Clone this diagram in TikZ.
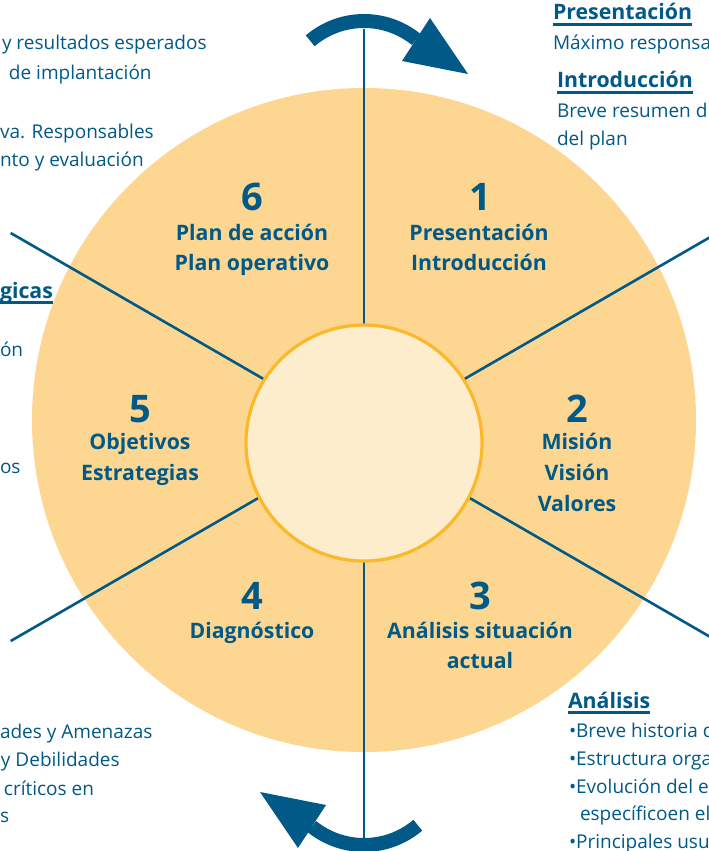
\documentclass[tikz,border=0pt]{standalone}
\usepackage{fontspec}
\setmainfont{Open Sans}
\definecolor{cblue}{RGB}{0,89,135}
\definecolor{cfill}{RGB}{253,214,146}
\definecolor{cinner}{RGB}{254,237,205}
\definecolor{cring}{RGB}{251,184,41}
\begin{document}
\begin{tikzpicture}[x=1pt,y=-1pt,
  every node/.style={inner sep=0pt, outer sep=0pt, text=cblue},
  body/.style={anchor=base west, font=\fontsize{19}{28}\selectfont},
  head/.style={anchor=base west, font=\fontsize{21.3}{28}\selectfont\bfseries},
  lab/.style={anchor=base, font=\fontsize{21.3}{31}\selectfont\bfseries},
  num/.style={anchor=base, font=\fontsize{38}{40}\selectfont\bfseries},
  ray/.style={draw=cblue, line width=2.6pt},
  ul/.style={draw=cblue, line width=2.4pt},
  turn/.style={draw=cblue, line width=14pt},
  tip/.style={fill=cblue}
]
\useasboundingbox (0,0) rectangle (709,851);
\clip (0,0) rectangle (709,851);
\fill[white] (0,0) rectangle (709,851);
\coordinate (c) at (364,437);
\coordinate (big) at (364,420);
\coordinate (inner) at (364,443);
\fill[cfill] (big) circle[radius=332];
\coordinate (e1) at (364,29);
\coordinate (e2) at (717.3,233);
\coordinate (e3) at (717.3,641);
\coordinate (e4) at (364,845);
\coordinate (e5) at (10.7,641);
\coordinate (e6) at (10.7,233);
\foreach \i in {1,...,6} \draw[ray] (c) -- (e\i);
\filldraw[fill=cinner, draw=cring, line width=3.2pt] (inner) circle[radius=118];
% arrows
\draw[turn] (364,104) ++(-130.4:83) arc[start angle=-130.4, end angle=-51.1, radius=83];
\fill[tip] (402,61) -- (430,18) -- (468,74) -- cycle;
\begin{scope}[rotate around={180:(364,433)}]
\draw[turn] (364,104) ++(-130.4:83) arc[start angle=-130.4, end angle=-51.1, radius=83];
\fill[tip] (402,61) -- (430,18) -- (468,74) -- cycle;
\end{scope}
% sector labels
\node[num] (n1) at (480,210) {1};
\node[lab] (t1a) at (479,240) {Presentación};
\node[lab] (t1b) at (479,270) {Introducción};
\node[num] (n6) at (252,210) {6};
\node[lab] (t6a) at (252,240) {Plan de acción};
\node[lab] (t6b) at (252,270) {Plan operativo};
\node[num] (n2) at (577,422) {2};
\node[lab] (t2a) at (577,449) {Misión};
\node[lab] (t2b) at (577,480) {Visión};
\node[lab] (t2c) at (577,511) {Valores};
\node[num] (n5) at (140,422) {5};
\node[lab] (t5a) at (140,449) {Objetivos};
\node[lab] (t5b) at (140,480) {Estrategias};
\node[num] (n3) at (480,609) {3};
\node[lab] (t3a) at (480,638) {Análisis situación};
\node[lab] (t3b) at (480,668) {actual};
\node[num] (n4) at (252,609) {4};
\node[lab] (t4a) at (252,638) {Diagnóstico};
% left side texts
\node[body] (l1) at (2,50) {y resultados esperados};
\node[body] (l2) at (9,80) {de implantación};
\node[body] (l3) at (0,138) {va. Responsables};
\node[body] (l4) at (0,166) {nto y evaluación};
\node[head] (lh) at (0,298) {gicas};
\draw[ul] ([yshift=-4.5pt]lh.base west) -- ([yshift=-4.5pt]lh.base east);
\node[body] (l5) at (0,356) {ón};
\node[body] (l6) at (0,473) {os};
\node[body] (l7) at (0,738) {ades y Amenazas};
\node[body] (l8) at (1,766) {y Debilidades};
\node[body] (l9) at (4,795) {críticos en};
\node[body] (l10) at (0,822) {s};
% right side texts
\node[head] (rh1) at (553,20) {Presentación};
\draw[ul] ([yshift=-4.5pt]rh1.base west) -- ([yshift=-4.5pt]rh1.base east);
\node[body] (r1) at (553,50) {Máximo responsa};
\node[head] (rh2) at (557,88) {Introducción};
\draw[ul] ([yshift=-4.5pt]rh2.base west) -- ([yshift=-4.5pt]rh2.base east);
\node[body] (r2) at (557,117) {Breve resumen d};
\node[body] (r3) at (557,145) {del plan};
\node[head] (rh3) at (568,708) {Análisis};
\draw[ul] ([yshift=-4.5pt]rh3.base west) -- ([yshift=-4.5pt]rh3.base east);
\node[body] (b1) at (569,737) {•Breve historia d};
\node[body] (b2) at (569,765) {•Estructura orga};
\node[body] (b3) at (569,793) {•Evolución del e};
\node[body] (b4) at (580,820) {específicoen el};
\node[body] (b5) at (569,848) {•Principales usu};
\end{tikzpicture}
\end{document}
